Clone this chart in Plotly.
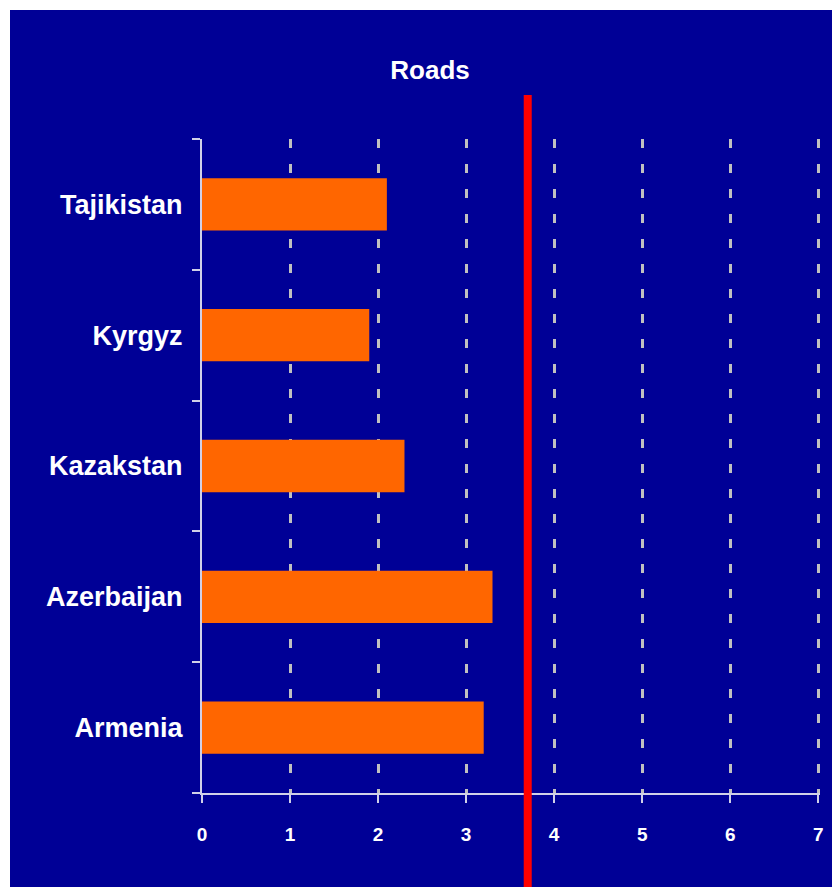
import plotly.graph_objects as go

# data, bottom to top
countries = ["Armenia", "Azerbaijan", "Kazakstan", "Kyrgyz", "Tajikistan"]
road_scores = [3.2, 3.3, 2.3, 1.9, 2.1]
benchmark = 3.7
x_ticks = [0, 1, 2, 3, 4, 5, 6, 7]

FONT = "Liberation Sans, Arial, sans-serif"
BG = "#000096"
GRID = "#c0c0c0"
AXIS = "#d0d0e8"

# page sits 8px in from the window edge, so the figure is sized to fit
W, H = 832, 879
L, T, R, B = 194, 131, 20, 94
PW, PH = W - L - R, H - T - B

fig = go.Figure()
fig.add_trace(go.Bar(
    x=road_scores, y=countries, orientation="h",
    marker={"color": "#ff6600", "line": {"width": 0}},
    width=0.4,
    hovertemplate="%{y}: %{x}<extra></extra>",
))

# slide frame: white outline along the top and left
fig.add_shape(
    type="rect", xref="paper", yref="paper", layer="below",
    x0=(1 - L) / PW, x1=(W + 40 - L) / PW,
    y0=-(B + 40) / PH, y1=(PH + T - 1) / PH,
    fillcolor=BG, line={"color": "white", "width": 2},
)

# benchmark line
fig.add_shape(
    type="line", xref="x", yref="paper",
    x0=benchmark, x1=benchmark, y0=1 + 44 / PH, y1=-0.3,
    line={"color": "#ff0000", "width": 8},
)

fig.update_layout(
    width=W, height=H,
    margin={"l": L, "r": R, "t": T, "b": B},
    paper_bgcolor="#000058",
    plot_bgcolor=BG,
    showlegend=False,
    title={
        "text": "<b>Roads</b>", "x": 422 / W, "xanchor": "center",
        "y": 1 - 62 / H, "yanchor": "middle",
        "font": {"family": FONT, "size": 26, "color": "white"},
    },
    xaxis={
        # small pad past 7 so the last dashed gridline is kept
        "range": [0, 7.02], "tickvals": x_ticks,
        "ticktext": [f"<b>{v}</b>" for v in x_ticks],
        "tickfont": {"family": FONT, "size": 19, "color": "white"},
        "showline": True, "linecolor": AXIS, "linewidth": 2,
        "ticks": "outside", "ticklen": 8, "tickcolor": AXIS, "tickwidth": 2,
        "showgrid": True, "gridcolor": GRID, "gridwidth": 3,
        "griddash": "9px,16px", "zeroline": False,
        "ticklabelstandoff": 15,
    },
    yaxis={
        "categoryorder": "array", "categoryarray": countries,
        "tickvals": countries,
        "ticktext": [f"<b>{c}</b>" for c in countries],
        "tickfont": {"family": FONT, "size": 27, "color": "white"},
        "showline": True, "linecolor": AXIS, "linewidth": 2,
        "ticks": "outside", "ticklen": 8, "tickcolor": AXIS, "tickwidth": 2,
        "tickson": "boundaries", "showgrid": False, "zeroline": False,
        "ticklabelstandoff": 12,
    },
)

fig.write_html("out.html")
